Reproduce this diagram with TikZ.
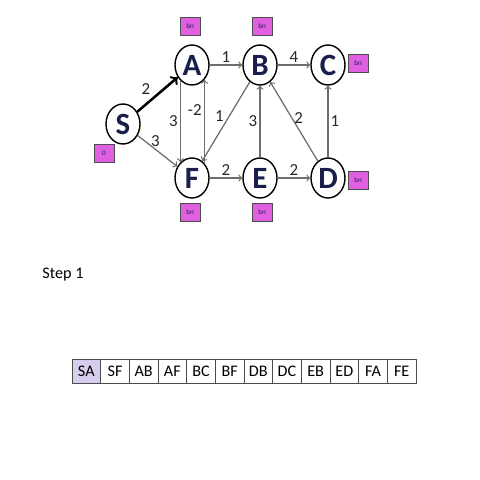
\documentclass[tikz,border=0pt]{standalone}
\usepackage{fontspec}
\setmainfont{Carlito}
\usetikzlibrary{shapes.geometric}
\definecolor{navy}{RGB}{25,30,75}
\definecolor{boxpink}{RGB}{225,95,225}
\definecolor{edgegray}{RGB}{110,110,110}
\definecolor{lavender}{RGB}{215,205,238}

\begin{document}
\begin{tikzpicture}[x=0.025cm, y=-0.025cm,
        vertex/.style={ellipse, draw, line width=1pt, fill=white, minimum width=0.85cm,
            minimum height=1cm, inner sep=0pt, text=navy, font=\fontsize{22}{24}\selectfont\bfseries},
        tag/.style={rectangle, draw=black!70, fill=boxpink, minimum width=0.5cm,
            minimum height=0.45cm, inner sep=0pt, text=navy, font=\fontsize{5}{6}\selectfont},
        edge/.style={draw=edgegray, line width=0.9pt, ->},
        wt/.style={inner sep=1.5pt, text=black!85, font=\fontsize{12}{14}\selectfont},
        cell/.style={rectangle, draw=black!70, minimum width=0.717cm, minimum height=0.6cm,
            inner sep=0pt, font=\fontsize{11.5}{13}\selectfont}]
            \path (0, 0) rectangle (480, 480);
            % graph
            \node[vertex] (S) at (123, 124) {S};
            \node[vertex] (A) at (192, 65) {A};
            \node[vertex] (B) at (260, 65) {B};
            \node[vertex] (C) at (328, 65) {C};
            \node[vertex] (F) at (192, 178) {F};
            \node[vertex] (E) at (260, 178) {E};
            \node[vertex] (D) at (328, 178) {D};
            \node[tag] (tS) at (104, 153) {0};
            \node[tag] (tA) at (190, 26) {bn};
            \node[tag] (tB) at (262, 26) {bn};
            \node[tag] (tC) at (358, 63) {bn};
            \node[tag] (tD) at (358, 180) {bn};
            \node[tag] (tE) at (262, 212) {bn};
            \node[tag] (tF) at (190, 212) {bn};
            \draw[black, line width=1.8pt, ->] (S) -- node[wt, pos=0.4, above left] {2} (A);
            \draw[edge] (S) -- node[wt, pos=0.45, above] {3} (F);
            \draw[edge] (A) -- node[wt, above] {1} (B);
            \draw[edge] (B) -- node[wt, above] {4} (C);
            \draw[edge] (A.234) -- node[wt, left] {3} (F.126);
            \draw[edge] (F.50) -- node[wt, pos=0.64, left] {-2} (A.310);
            \draw[edge] (B) -- node[wt, pos=0.43, left, xshift=-2pt] {1} (F);
            \draw[edge] (E) -- node[wt, left] {3} (B);
            \draw[edge] (D) -- node[wt, pos=0.55, right] {2} (B);
            \draw[edge] (D) -- node[wt, right] {1} (C);
            \draw[edge] (F) -- node[wt, above] {2} (E);
            \draw[edge] (E) -- node[wt, above] {2} (D);
            % step and edge list
            \node[font=\fontsize{11.5}{14}\selectfont] (step) at (63, 275) {Step 1};
            \node[cell, fill=lavender] (c1) at (86.33, 371) {SA};
            \foreach \lbl [count=\i from 2] in {SF, AB, AF, BC, BF, DB, DC, EB, ED, FA, FE} {
                    \node[cell] (c\i) at (72+28.67*\i-14.33, 371) {\lbl};
            }
    \end{tikzpicture}
\end{document}
